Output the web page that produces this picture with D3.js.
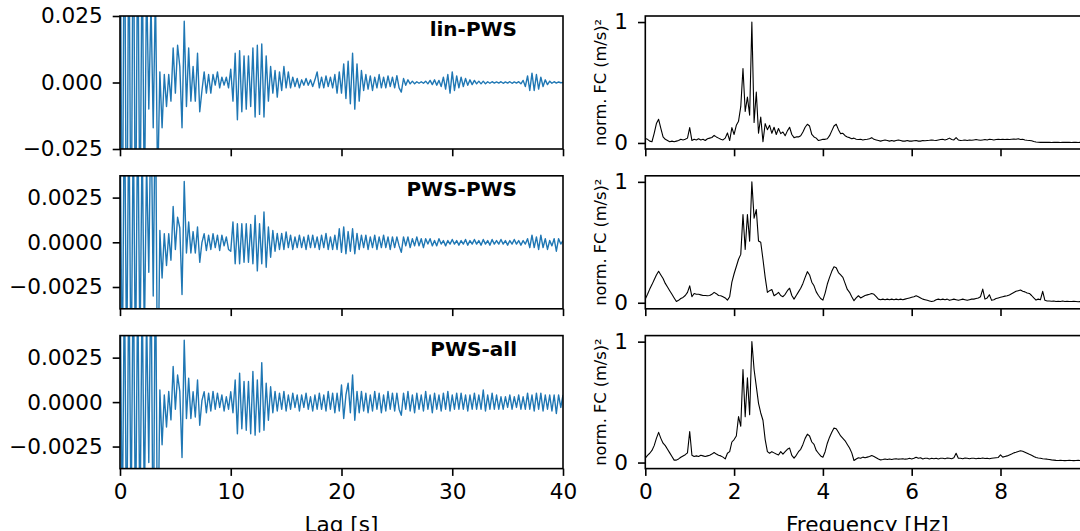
<!DOCTYPE html>
<html>
<head>
<meta charset="utf-8">
<script src="https://cdn.jsdelivr.net/npm/d3@7"></script>
<style>
  html, body { margin: 0; padding: 0; background: #fff; }
  svg { display: block; font-family: "DejaVu Sans", sans-serif; }
</style>
</head>
<body>
<svg id="chart" width="1080" height="531"></svg>
<script>
// -------------------------------------------------------------------------
// Data

const panelNames = ['lin-PWS', 'PWS-PWS', 'PWS-all'];

// waveforms: one sample every lagStep seconds, values in units of lagUnits[i]
const lagStep = 0.2;
const lagUnits = [1e-3, 1e-4, 1e-4];

const linPwsTrace = [
  90, -80, 85, -90, 70, -75, 80, -70, 65, -60,
  55, -50, 40, -10, 30, -17, 35, -40, 4, -17,
  3, -9, 3, -7, 13, -4, 14, 6, -17, 23,
  -9, 13, -7, 6, -7, 11, -11, -3, 4, -4,
  3, -4, 3, -1, 4, -2, 2, -1, 2, -2,
  5, -7, 11, -14, 12, -11, 10, -10, 10, -9,
  13, -13, 14, -12, 14.5, -13, 10, -7, 6, -4,
  4.5, -5.5, 4, -3, 6, -2, 4, -2, 2, -1.5,
  1.5, -2, 1, -1, 1.5, -1, 1, -1.5, 1, 4,
  -2, 2, -2, 2.5, -1.5, 2, -2, 3, -4, 4,
  -4, 7, -6, 8, -8, 11, -10, 7, -7, 4.5,
  -3, 3, -2.5, 2.5, -3, 2, -2, 3, -2, 2,
  -2, 2.5, -1.5, 2, -2, 2.6, -2, -3.6, 1.5, -1,
  1, -0.5, 0.5, -0.5, 0.3, -0.3, 0.3, -0.3, 0.5, -0.5,
  0.8, -0.8, 1, -1, 0.8, -1.5, 2, -2.5, 3, -4,
  4, -3, 2.5, -2, 2, -1.5, 1.5, -1, 1, -0.8,
  0.8, -0.5, 0.5, -0.5, 0.5, -0.5, 0.3, -0.3, 0.3, -0.2,
  0.2, -0.2, 0.3, -0.3, 0.2, -0.2, 0.3, -0.3, 0.2, -0.2,
  0.3, -0.5, 0.8, -1.5, 2.5, -3, 3.5, -3, 3, -2.5,
  2, -1.5, 1, -0.8, 0.5, -0.3, 0.3, -0.2, 0.2, -0.1,
  0
];

const pwsPwsTrace = [
  80, -85, 90, -75, 80, -85, 70, -75, 80, -65,
  60, -55, 45, -16.8, 80, -30, 90, -100, 6.6, -20,
  4.8, -13, 4.8, -10, 20, -4, 14, 8, -29.2, 34,
  -6, 11.4, -6, 6, -6, 8.6, -11.2, 0, 4.8, -4.6,
  4, -4, 4.8, -3, 4, -4.6, 4, -2, 3, -4,
  -5, 11.4, -12, 10.4, -12, 10.4, -11.2, 10.4, -11.2, 10,
  -12, 15, -16, 10.4, -12, 17, -14, 8.6, -8.4, 6.6,
  -5, 5, -4, 5, -4, 5.8, -3, 4, -4, 3,
  -3, 4, -3, 3, -4, 4, -3, 4, -3, 3,
  -4, 4, -3, 5, -4, 3, -4, 4, -4, 7.6,
  -5.6, 8.6, -6.4, 6, -5, 7.6, -6.4, 5, -4, 4,
  -3, 4, -4, 3, -3, 4, -4, 3, -3, 4,
  -3, 3, -4, 3, -3, 3, -2, -5.6, 3, -2,
  3, -3, 2, -2, 3, -2, 2, -3, 2, -1,
  2, -2, 1, -2, 2, -1, 1, -2, 1, -1,
  1.6, -1, 1, -1.6, 1, -1, 1.6, -1.6, 1, -1,
  1.6, -1, 1, -1.6, 1.6, -1, 1, -1.6, 1.6, -1,
  1, -1, 1.6, -1, 1, -1.6, 1, -1, 1.6, -1,
  1, -1.6, 1, -1, 2, -3, 4, -3, 3, -4,
  4, -3, 2, -4, 1, -2, 2, -5, 2, -1,
  1
];

const pwsAllTrace = [
  85, -80, 75, -90, 80, -70, 85, -80, 70, -75,
  65, -60, 50, -34, 80, -100, 90, -100, 6.8, -24,
  4, -14, 6, -10, 20, -4, 15.2, 6, -31.2, 34.8,
  -9.2, 13.4, -9.2, 5.8, -8.4, 12.4, -13, 1, 5.8, -6,
  5, -5, 6, -4, 5, -3, 4, -5, 3, -4,
  5.8, -6, 12.4, -17.8, 16.2, -15, 11.6, -15.8, 11.6, -17.8,
  17.2, -18.6, 12.4, -16.8, 22.2, -15.8, 10.6, -10.2, 8.6, -6,
  6, -5, 5, -4, 6, -5, 4, -4, 5, -3,
  4, -5, 4, -3, 5, -4, 3, -5, 4, -4,
  5, -4, 4, -5, 6, -4, 5, -6, 5, -5,
  9.6, -9.2, 4, 10.6, -6, 15.2, -10.2, 6, -6, 6,
  -5, 5, -6, 4, -5, 6, -4, 5, -6, 4,
  -5, 6, -4, 5, -5, 5, -4, -7.4, 5, -4,
  6, -5, 4, -6, 5, -4, 4, -5, 6, -4,
  4, -6, 5, -4, 4, -5, 5, -4, 6, -5,
  4, -4, 5, -4, 5, -4, 4, -5, 4, -4,
  5, -4, 4, -4, 6.8, -5, 4, -4, 5, -4,
  4, -4, 3, -4, 3, -3, 4, -4, 3, -3,
  4, -4, 3, -4, 5, -4, 4, -5, 5, -4,
  5, -5, 4, -4, 4, -5, 4, -6.4, 4, -3,
  4
];

// normalised spectra: one value every freqStep Hz, in percent of the maximum
const freqStep = 0.05;

const linPwsSpec = [
  3.6, 3, 1.5, 1, 8, 16, 19.6, 12, 5, 3, 2, 1, 1.5, 1, 1.5, 2, 3, 2.5, 3, 4,
  12.7, 2, 3, 2.5, 3.5, 2.5, 3, 2, 3.5, 4, 4.5, 6.3, 5, 4, 3, 2.5, 4, 8.3, 2, 12.7,
  7, 14.6, 18, 30, 61.6, 26, 38, 23, 100, 17, 42, 8, 21.5, 1, 16, 11, 14.6, 8, 13, 7,
  12, 7.7, 9, 6, 10, 13, 7, 4.4, 5, 5, 6, 9, 13, 15.5, 14, 7, 5, 4, 2, 2.5,
  3, 3, 3.5, 6, 10, 14, 15.5, 11, 7.7, 8, 6, 5, 4.4, 3.5, 4, 3, 2.8, 3, 2.5, 2.8,
  3, 3.5, 4.4, 3, 2.5, 2, 1.5, 2, 2.5, 2, 1.5, 2, 1.5, 2, 2.5, 2, 1.5, 1.5, 2, 1.5,
  1.5, 1.8, 2, 1.5, 1.5, 2, 1.8, 2, 2.2, 2.5, 2.2, 2, 2.5, 2.8, 3, 2.5, 3, 4, 2.8, 2.5,
  4.4, 2.5, 2, 2.2, 2.5, 2, 2.5, 2.2, 2.5, 2.8, 2.5, 2.2, 2.5, 2.8, 2.5, 3, 2.8, 2.5, 2.8, 3,
  2.8, 3, 2.8, 3, 2.8, 3, 3.2, 3, 3.5, 2.8, 3, 2.5, 2.2, 2, 1.8, 1.2, 0.8, 0.6, 0.5, 0.5,
  0.5, 0.6, 0.5, 0.4, 0.5, 0.6, 0.5, 0.4, 0.5, 0.5, 0.6, 0.5, 0.4, 0.5, 0.5, 0.4, 0.5, 0.5, 0.4, 0.5,
  0.5
];

const pwsPwsSpec = [
  3, 7, 11.3, 15, 19, 23, 26, 23, 20, 16, 13, 10, 7, 4, 1, 2, 3.5, 4.4, 6, 8.6,
  14, 5, 7.7, 7, 7, 6.5, 6, 6, 5.8, 6, 7, 8.6, 7.5, 6, 5.8, 5, 4, 2.2, 5, 17,
  24, 30, 36, 40, 73, 44, 73, 51, 100, 70, 77, 51, 50, 36, 21, 8.6, 10, 11, 5.8, 7,
  8.6, 6, 5, 7, 10, 12, 6, 3, 6, 9, 12, 16, 21, 25.7, 23, 17, 14, 9, 6, 3.5,
  2.2, 8, 15.5, 21, 26, 29.8, 29, 25, 23, 21, 16, 11, 8.6, 5, 1.7, 4, 5.8, 4, 5, 6,
  6.5, 7, 7.7, 7, 5, 3, 2.5, 3, 2.5, 3, 2.5, 3, 2.5, 3, 2.5, 3, 2.5, 3, 3.5, 4,
  4.5, 5, 5.8, 5, 4, 3, 2.5, 2, 1.5, 1, 1.5, 2.5, 3, 2.5, 3, 2.5, 3, 2, 2.5, 3,
  2.5, 2, 2.5, 3, 2.5, 2, 2.5, 3, 3, 3.5, 4, 5, 11.3, 3, 4, 6.6, 2, 2.5, 3.5, 4,
  4.5, 5, 5.5, 5.8, 6.5, 7.5, 8.5, 9.5, 10, 10.5, 9.5, 9, 8, 7.7, 6, 4, 2.2, 3, 2.5, 9.4,
  2, 1.5, 1.5, 1.2, 1.5, 1, 1.2, 1, 1.5, 1, 1.2, 1, 1, 1.2, 1, 0.8, 1, 1, 0.8, 1,
  1
];

const pwsAllSpec = [
  3.6, 6, 7.7, 10, 14, 20, 25, 20, 16, 14, 11, 8, 5, 2, 2, 3, 4.4, 5.5, 6.5, 8,
  25.7, 6, 5, 5.5, 5, 6, 5.5, 5, 5.5, 6, 7, 8.3, 7, 6, 5.5, 4.5, 3, 7.7, 9, 17,
  19, 22, 38, 30, 77, 38, 70, 39.5, 100, 77, 63, 49, 41, 35, 19, 9, 7.7, 9, 8, 7,
  6.3, 9, 7, 9, 11, 12, 6, 3.6, 6, 9, 11, 15, 20, 23.5, 22, 17, 15, 10, 7.7, 5.5,
  4.4, 9, 16, 21, 25, 28.5, 28, 25, 22, 20, 18, 15, 12, 8, 1.7, 3, 4, 3.5, 4.5, 4,
  4.5, 5, 5.8, 5, 4, 3, 2.2, 2.5, 3, 2.5, 3, 2.5, 3, 3.2, 2.8, 3, 3.2, 2.8, 3, 3.5,
  3, 3.5, 4.4, 3.5, 4, 3, 3.5, 3.6, 3, 3.5, 3.2, 3.6, 3, 3.5, 3.6, 3.2, 3.8, 3.6, 3.2, 4,
  7.7, 3.5, 3.6, 3.2, 3.8, 3.6, 3.2, 3.6, 3.5, 3.2, 3.6, 3.4, 3.8, 3.4, 3.6, 3.2, 3.6, 3.8, 4, 4.2,
  6.3, 4.5, 5, 5.5, 6.3, 7, 8, 8.5, 9.2, 9.7, 9.3, 8.5, 7.7, 6.8, 6, 5, 4.2, 3.8, 3.6, 3.2,
  3, 2.8, 2.5, 2.2, 2, 1.8, 1.7, 1.8, 1.7, 1.6, 1.7, 1.8, 1.7, 1.6, 1.7, 1.8, 1.7, 1.6, 1.7, 1.7,
  1.7
];

const traces = [linPwsTrace, pwsPwsTrace, pwsAllTrace];
const spectra = [linPwsSpec, pwsPwsSpec, pwsAllSpec];

const lagTicks = [0, 10, 20, 30, 40];
const freqTicks = [0, 2, 4, 6, 8];
const ampTicks = [[-0.025, 0, 0.025], [-0.0025, 0, 0.0025], [-0.0025, 0, 0.0025]];
const ampLimits = [0.025, 0.00372, 0.00374];
const ampFormats = ['.3f', '.4f', '.4f'];
const specTicks = [0, 1];

// -------------------------------------------------------------------------
// Layout

const leftX = [120, 563];
const rightX = [645.3, 1089.3];
const rowStep = 159.8;
const rowH = 133;
const firstTop = 16;
const tickLen = 7.3;
const tickFont = 21.6;

const svg = d3.select('#chart');

const xLag = d3.scaleLinear().domain([0, 40]).range(leftX);
const xFreq = d3.scaleLinear().domain([0, 10]).range(rightX);

function styleAxis(g) {
  g.attr('font-size', null).attr('font-family', null);
  g.select('.domain').remove();
  g.selectAll('.tick line').attr('stroke', '#000').attr('stroke-width', 1.6);
  g.selectAll('.tick text').attr('fill', '#000').style('font-size', tickFont + 'px');
}

panelNames.forEach(function(name, i) {
  const top = firstTop + i * rowStep;
  const bottom = top + rowH;
  const last = i === panelNames.length - 1;

  // ---- left: waveform
  const yAmp = d3.scaleLinear()
    .domain([-ampLimits[i], ampLimits[i]])
    .range([bottom, top]);

  svg.append('clipPath')
    .attr('id', 'clipL' + i)
    .append('rect')
    .attr('x', leftX[0]).attr('y', top)
    .attr('width', leftX[1] - leftX[0]).attr('height', rowH);

  const unit = lagUnits[i];
  const wave = d3.line()
    .x((d, k) => xLag(k * lagStep))
    .y(d => yAmp(d * unit));

  svg.append('path')
    .datum(traces[i])
    .attr('clip-path', 'url(#clipL' + i + ')')
    .attr('fill', 'none')
    .attr('stroke', '#1f77b4')
    .attr('stroke-width', 1.4)
    .attr('stroke-linejoin', 'round')
    .attr('d', wave);

  svg.append('g')
    .attr('transform', `translate(${leftX[0]},0)`)
    .call(d3.axisLeft(yAmp)
      .tickValues(ampTicks[i])
      .tickFormat(d3.format(ampFormats[i]))
      .tickSize(tickLen).tickSizeOuter(0).tickPadding(10))
    .call(styleAxis);

  svg.append('g')
    .attr('transform', `translate(0,${bottom})`)
    .call(d3.axisBottom(xLag)
      .tickValues(lagTicks)
      .tickFormat(last ? d3.format('d') : () => '')
      .tickSize(tickLen).tickSizeOuter(0).tickPadding(8))
    .call(styleAxis);

  svg.append('rect')
    .attr('x', leftX[0]).attr('y', top)
    .attr('width', leftX[1] - leftX[0]).attr('height', rowH)
    .attr('fill', 'none').attr('stroke', '#000').attr('stroke-width', 1.6);

  svg.append('text')
    .attr('x', 517).attr('y', top + 20)
    .attr('text-anchor', 'end')
    .attr('font-weight', 'bold')
    .style('font-size', '20px')
    .text(name);

  // ---- right: spectrum
  const ySpec = d3.scaleLinear().domain([-0.05, 1.05]).range([bottom, top]);

  svg.append('clipPath')
    .attr('id', 'clipR' + i)
    .append('rect')
    .attr('x', rightX[0]).attr('y', top)
    .attr('width', rightX[1] - rightX[0]).attr('height', rowH);

  const spec = d3.line()
    .x((d, k) => xFreq(k * freqStep))
    .y(d => ySpec(d / 100));

  svg.append('path')
    .datum(spectra[i])
    .attr('clip-path', 'url(#clipR' + i + ')')
    .attr('fill', 'none')
    .attr('stroke', '#000')
    .attr('stroke-width', 1.1)
    .attr('stroke-linejoin', 'round')
    .attr('d', spec);

  svg.append('g')
    .attr('transform', `translate(${rightX[0]},0)`)
    .call(d3.axisLeft(ySpec)
      .tickValues(specTicks)
      .tickFormat(d3.format('d'))
      .tickSize(tickLen).tickSizeOuter(0).tickPadding(10))
    .call(styleAxis);

  svg.append('g')
    .attr('transform', `translate(0,${bottom})`)
    .call(d3.axisBottom(xFreq)
      .tickValues(freqTicks)
      .tickFormat(last ? d3.format('d') : () => '')
      .tickSize(tickLen).tickSizeOuter(0).tickPadding(8))
    .call(styleAxis);

  svg.append('rect')
    .attr('x', rightX[0]).attr('y', top)
    .attr('width', rightX[1] - rightX[0]).attr('height', rowH)
    .attr('fill', 'none').attr('stroke', '#000').attr('stroke-width', 1.6);

  svg.append('text')
    .attr('transform', `translate(600,${top + rowH / 2}) rotate(-90)`)
    .attr('text-anchor', 'middle')
    .attr('dominant-baseline', 'central')
    .style('font-size', '16.2px')
    .text('norm. FC (m/s)²');
});

// x labels, mostly below the visible area as in the original
svg.append('text')
  .attr('x', (leftX[0] + leftX[1]) / 2).attr('y', 532)
  .attr('text-anchor', 'middle')
  .style('font-size', tickFont + 'px')
  .text('Lag [s]');

svg.append('text')
  .attr('x', (rightX[0] + rightX[1]) / 2).attr('y', 532)
  .attr('text-anchor', 'middle')
  .style('font-size', tickFont + 'px')
  .text('Frequency [Hz]');
</script>
</body>
</html>
